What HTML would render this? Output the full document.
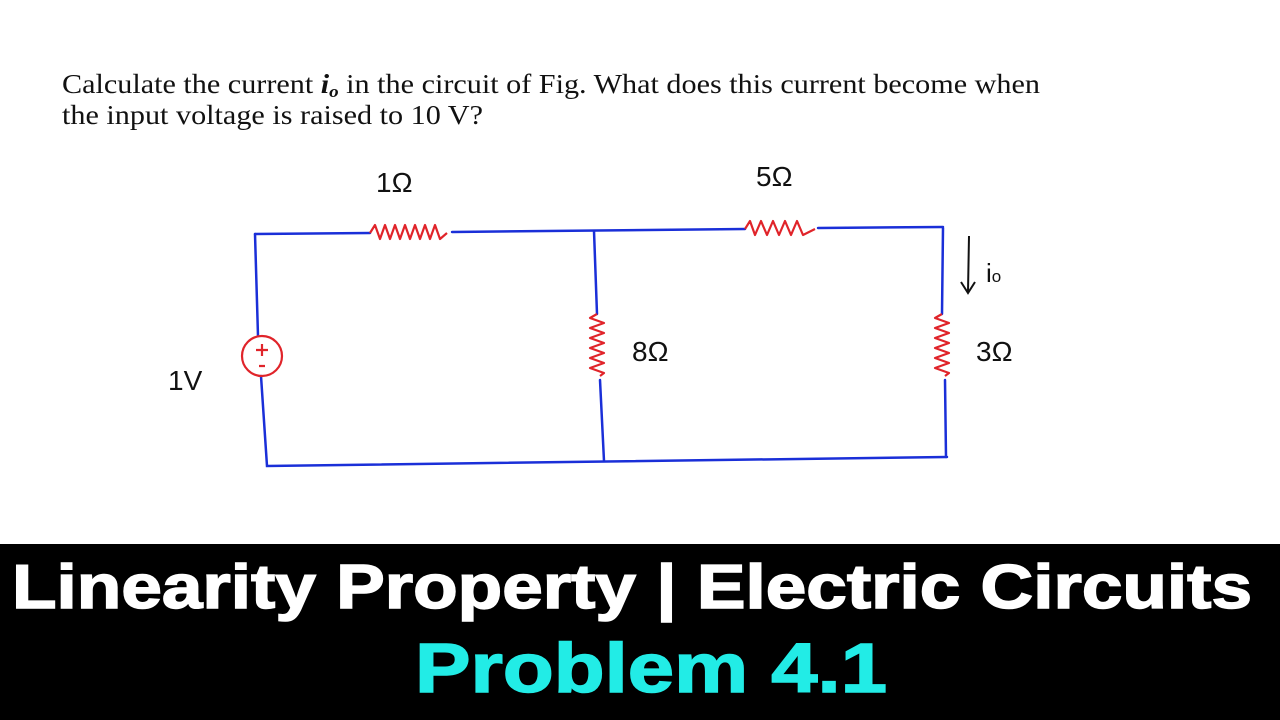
<!DOCTYPE html>
<html><head><meta charset="utf-8"><style>
html,body{margin:0;padding:0;background:#fff;width:1280px;height:720px;overflow:hidden}
</style></head><body>
<svg width="1280" height="720" viewBox="0 0 1280 720" xmlns="http://www.w3.org/2000/svg">
<rect width="1280" height="720" fill="#fff"/>
<text x="62" y="93" font-family="Liberation Serif, serif" font-size="27" fill="#111" textLength="978" lengthAdjust="spacingAndGlyphs">Calculate the current <tspan font-weight="bold" font-style="italic">i</tspan><tspan font-weight="bold" font-style="italic" font-size="17" dy="4">o</tspan><tspan dy="-4"> in the circuit of Fig. What does this current become when</tspan></text>
<text x="62" y="124" font-family="Liberation Serif, serif" font-size="27" fill="#111" textLength="421" lengthAdjust="spacingAndGlyphs">the input voltage is raised to 10 V?</text>
<g stroke="#1a2fd8" stroke-width="2.5" fill="none" stroke-linecap="round">
<path d="M255 234 L370 233"/><path d="M452 232 L745 229"/><path d="M818 228 L943 227"/>
<path d="M255 234 L258 336"/><path d="M261 376 L267 466 L947 457"/>
<path d="M594 231 L597 314"/><path d="M600 380 L604 461"/>
<path d="M943 228 L942 314"/><path d="M945 380 L946 457"/>
</g>
<g stroke="#e0242a" stroke-width="2.2" fill="none" stroke-linejoin="round">
<path d="M370 233 l5 -8 l5 14 l5 -14 l5 14 l5 -14 l5 14 l5 -14 l5 14 l5 -14 l5 14 l5 -14 l5 14 l5 -14 l5 14 l7 -6"/>
<path d="M745 229 l5 -8 l5 14 l6 -14 l6 14 l6 -14 l6 14 l6 -14 l6 14 l6 -14 l6 14 l12 -6"/>
<path d="M597 314 l-7 4 l14 5 l-14 5 l14 5 l-14 5 l14 5 l-14 5 l14 5 l-14 5 l14 5 l-14 5 l14 5 l-4 3"/>
<path d="M942 314 l-7 4 l14 5 l-14 5 l14 5 l-14 5 l14 5 l-14 5 l14 5 l-14 5 l14 5 l-14 5 l14 5 l-4 3"/>
<circle cx="262" cy="356" r="20"/>
<path d="M256 350 h12 M262 344 v12 M259 366 h6"/>
</g>
<g font-family="Liberation Sans, sans-serif" font-size="28" fill="#111">
<text x="376" y="192">1Ω</text><text x="756" y="186">5Ω</text>
<text x="632" y="361">8Ω</text><text x="976" y="361">3Ω</text>
<text x="168" y="390">1V</text>
<text x="986" y="282" font-size="26">i<tspan font-size="17">o</tspan></text>
</g>
<path d="M969 236 L968 292 M961 282 L968 293 L975 282" stroke="#111" stroke-width="2" fill="none"/>
<rect x="0" y="544" width="1280" height="176" fill="#000"/>
<text x="12" y="608" font-family="Liberation Sans, sans-serif" font-weight="bold" font-size="62" fill="#fff" stroke="#fff" stroke-width="1.5" textLength="1240" lengthAdjust="spacingAndGlyphs">Linearity Property | Electric Circuits</text>
<text x="415" y="692" font-family="Liberation Sans, sans-serif" font-weight="bold" font-size="70" fill="#22ece6" stroke="#22ece6" stroke-width="1.5" textLength="472" lengthAdjust="spacingAndGlyphs">Problem 4.1</text>
</svg>
</body></html>
